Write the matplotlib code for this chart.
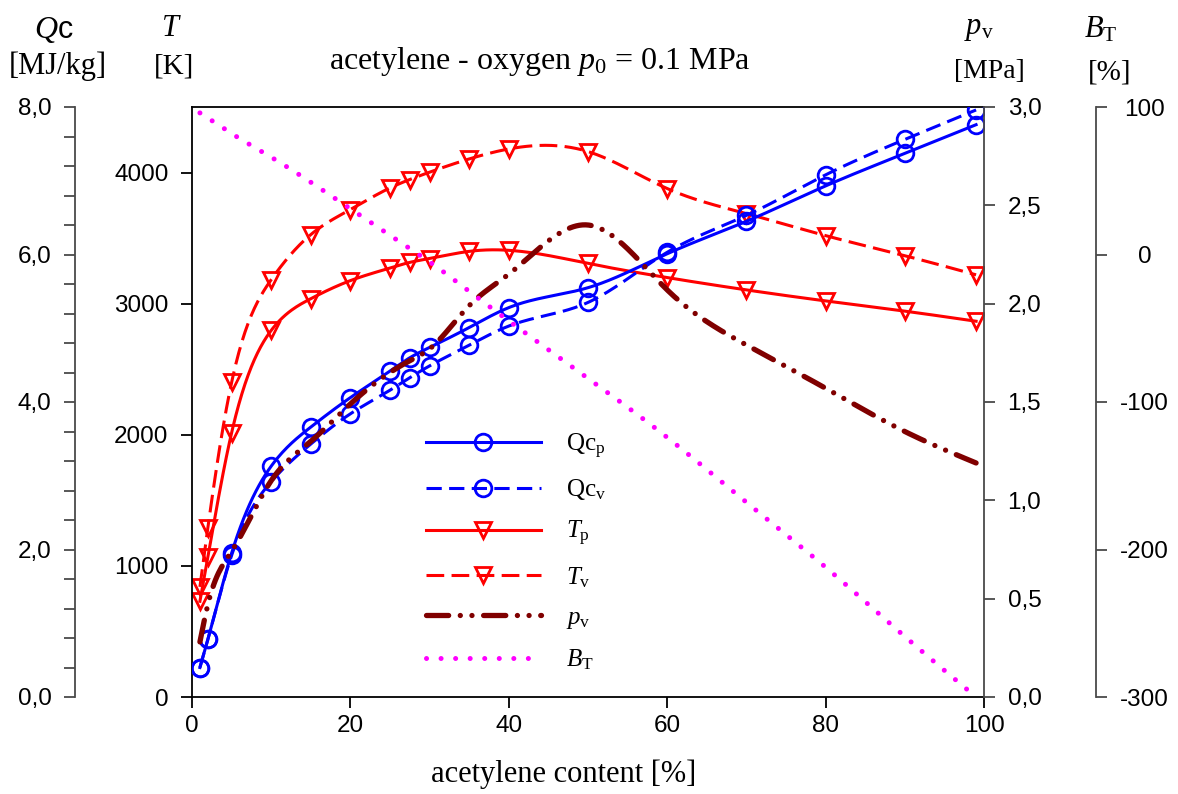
import numpy as np
import matplotlib
matplotlib.use("Agg")
import matplotlib.pyplot as plt
from matplotlib.lines import Line2D
from matplotlib.ticker import FixedLocator, FuncFormatter

# ---------------- data ----------------
x_content = [1, 2, 5, 10, 15, 20, 25, 27.5, 30, 35, 40, 50, 60, 70, 80, 90, 99]

qc_p = [0.40, 0.78, 1.95, 3.13, 3.66, 4.06, 4.42, 4.60, 4.74, 5.01, 5.28, 5.55, 6.01, 6.45, 6.93, 7.37, 7.76]
qc_v = [0.40, 0.78, 1.92, 2.92, 3.43, 3.84, 4.16, 4.33, 4.49, 4.77, 5.03, 5.35, 6.03, 6.53, 7.08, 7.56, 7.96]

t_p = [730, 1069, 2015, 2796, 3038, 3176, 3272, 3315, 3344, 3399, 3407, 3307, 3199, 3105, 3021, 2943, 2866]
t_v = [840, 1290, 2399, 3183, 3527, 3718, 3883, 3947, 4003, 4104, 4180, 4160, 3878, 3687, 3519, 3366, 3220]

p_v = [0.28, 0.47, 0.74, 1.10, 1.30, 1.49, 1.65, 1.71, 1.77, 1.99, 2.15, 2.40, 2.07, 1.79, 1.57, 1.35, 1.19]

b_t = [96, 92.5, 82, 66, 49, 31, 13, 4, -5, -25, -45, -84, -124, -168, -212, -259, -300]

x_ticks = [0, 20, 40, 60, 80, 100]
qc_ticks = [0, 2, 4, 6, 8]
t_ticks = [0, 1000, 2000, 3000, 4000]
pv_ticks = [0, 0.5, 1.0, 1.5, 2.0, 2.5, 3.0]
bt_ticks = [-300, -200, -100, 0, 100]

# ---------------- helpers ----------------
def smooth(x, y, n=500):
    """natural cubic spline through the data points (for drawing the curve)"""
    x = np.asarray(x, float); y = np.asarray(y, float)
    h = np.diff(x); m = len(x)
    A = np.zeros((m, m)); r = np.zeros(m)
    A[0, 0] = A[-1, -1] = 1
    for i in range(1, m - 1):
        A[i, i - 1] = h[i - 1]; A[i, i] = 2 * (h[i - 1] + h[i]); A[i, i + 1] = h[i]
        r[i] = 3 * ((y[i + 1] - y[i]) / h[i] - (y[i] - y[i - 1]) / h[i - 1])
    c = np.linalg.solve(A, r)
    b = (y[1:] - y[:-1]) / h - h * (2 * c[:-1] + c[1:]) / 3
    d = (c[1:] - c[:-1]) / (3 * h)
    xs = np.linspace(x[0], x[-1], n)
    idx = np.clip(np.searchsorted(x, xs) - 1, 0, m - 2)
    dx = xs - x[idx]
    return xs, y[idx] + b[idx] * dx + c[idx] * dx ** 2 + d[idx] * dx ** 3

def comma(fmt):
    return FuncFormatter(lambda v, p: (fmt % v).replace('.', ','))

# ---------------- style ----------------
plt.rcParams['font.family'] = ['Liberation Sans', 'DejaVu Sans']
plt.rcParams['mathtext.fontset'] = 'custom'
plt.rcParams['mathtext.rm'] = 'Liberation Serif'
plt.rcParams['mathtext.it'] = 'Liberation Serif:italic'
plt.rcParams['mathtext.sf'] = 'Liberation Sans'

BLUE = '#0000FF'
RED = '#FF0000'
MAROON = '#800000'
MAGENTA = '#FF00FF'
GREY = '#4a4a4a'

TICK_FS = 17.5
SERIF = 'Liberation Serif'

W, H = 1178, 794
fig = plt.figure(figsize=(W / 100, H / 100), dpi=100)
L, R, B, T = 192, 984, 697, 107
ax = fig.add_axes([L / W, 1 - B / H, (R - L) / W, (B - T) / H])
ax_q = ax.twinx()
ax_p = ax.twinx()
ax_b = ax.twinx()

# main axes: x + temperature
ax.set_xlim(0, 100)
ax.set_ylim(0, 4500)
ax.xaxis.set_major_locator(FixedLocator(x_ticks))
ax.yaxis.set_major_locator(FixedLocator(t_ticks))
ax.tick_params(axis='both', direction='out', length=8, width=1.3, labelsize=TICK_FS, pad=9)
ax.tick_params(axis='x', pad=5)
ax.spines['right'].set_visible(False)
for s in ['left', 'bottom', 'top']:
    ax.spines[s].set_linewidth(1.3)
ax.set_xlabel('acetylene content [%]', family=SERIF, fontsize=22, labelpad=16)
ax.xaxis.label.set_x((564 - L) / (R - L))

# Qc axis (far left)
ax_q.set_ylim(0, 8)
ax_q.yaxis.set_ticks_position('left')
ax_q.spines['left'].set_position(('axes', -117 / (R - L)))
ax_q.spines['left'].set_visible(True)
ax_q.spines['left'].set_color(GREY)
ax_q.spines['left'].set_linewidth(1.3)
for s in ['right', 'top', 'bottom']:
    ax_q.spines[s].set_visible(False)
ax_q.yaxis.set_major_locator(FixedLocator(qc_ticks))
ax_q.yaxis.set_minor_locator(FixedLocator([v / 10 for v in range(0, 81, 4)]))
ax_q.yaxis.set_major_formatter(comma('%.1f'))
ax_q.tick_params(axis='y', which='both', direction='out', length=8, width=1.3, color=GREY,
                 labelsize=TICK_FS, pad=9)

# p_v axis (inner right)
ax_p.set_ylim(0, 3)
for s in ['left', 'top', 'bottom']:
    ax_p.spines[s].set_visible(False)
ax_p.spines['right'].set_color(GREY)
ax_p.spines['right'].set_linewidth(1.3)
ax_p.yaxis.set_major_locator(FixedLocator(pv_ticks))
ax_p.yaxis.set_major_formatter(comma('%.1f'))
ax_p.tick_params(axis='y', direction='out', length=8, width=1.3, color=GREY, labelsize=TICK_FS, pad=9)

# B_T axis (far right)
ax_b.set_ylim(-300, 100)
for s in ['left', 'top', 'bottom']:
    ax_b.spines[s].set_visible(False)
ax_b.spines['right'].set_position(('axes', 1 + 112 / (R - L)))
ax_b.spines['right'].set_color(GREY)
ax_b.spines['right'].set_linewidth(1.3)
ax_b.yaxis.set_major_locator(FixedLocator(bt_ticks))
ax_b.yaxis.set_major_formatter(FuncFormatter(lambda v, p: '%d' % v))
ax_b.tick_params(axis='y', direction='out', length=8, width=1.3, color=GREY, labelsize=TICK_FS, pad=27)
for lab in ax_b.get_yticklabels():
    lab.set_horizontalalignment('center')

# ---------------- series ----------------
LW = 2.2
dash_b = (0, (5.0, 2.4))
dash_r = (0, (5.8, 2.4))
dashdotdot = (0, (4.2, 2.2, 0.01, 2.2, 0.01, 2.2))
dotted = (0, (0.01, 2.9))

mk_c = dict(marker='o', ms=12, mfc='none', mew=2.0)
mk_t = dict(marker='v', ms=12, mfc='none', mew=2.0)

# B_T
xs, ys = smooth(x_content, b_t)
ax_b.plot(xs, ys, color=MAGENTA, lw=3.6, linestyle=dotted, dash_capstyle='round')
# p_v
xs, ys = smooth(x_content, p_v)
ax_p.plot(xs, ys, color=MAROON, lw=3.8, linestyle=dashdotdot, dash_capstyle='round')
# temperatures
xs, ys = smooth(x_content, t_p)
ax.plot(xs, ys, color=RED, lw=LW)
ax.plot(x_content, t_p, color=RED, ls='none', **mk_t)
xs, ys = smooth(x_content, t_v)
ax.plot(xs, ys, color=RED, lw=LW, linestyle=dash_r)
ax.plot(x_content, t_v, color=RED, ls='none', **mk_t)
# heat of combustion
xs, ys = smooth(x_content, qc_p)
ax_q.plot(xs, ys, color=BLUE, lw=LW)
ax_q.plot(x_content, qc_p, color=BLUE, ls='none', **mk_c)
xs, ys = smooth(x_content, qc_v)
ax_q.plot(xs, ys, color=BLUE, lw=LW, linestyle=dash_b)
ax_q.plot(x_content, qc_v, color=BLUE, ls='none', **mk_c)

for a in (ax_q, ax_p, ax_b):
    a.set_xlim(0, 100)

# ---------------- legend ----------------
handles = [
    Line2D([], [], color=BLUE, lw=LW, **mk_c),
    Line2D([], [], color=BLUE, lw=LW, linestyle=dash_b, **mk_c),
    Line2D([], [], color=RED, lw=LW, **mk_t),
    Line2D([], [], color=RED, lw=LW, linestyle=dash_r, **mk_t),
    Line2D([], [], color=MAROON, lw=3.8, linestyle=dashdotdot, dash_capstyle='round'),
    Line2D([], [], color=MAGENTA, lw=3.6, linestyle=dotted, dash_capstyle='round'),
]
labels = [r'Qc$_\mathrm{p}$', r'Qc$_\mathrm{v}$', r'$T_\mathrm{p}$', r'$T_\mathrm{v}$',
          r'$p_\mathrm{v}$', r'$B_\mathrm{T}$']
leg = ax_b.legend(handles, labels, loc='upper left', bbox_to_anchor=(403 / W, 1 - 409 / H),
                  bbox_transform=fig.transFigure, frameon=False, numpoints=1,
                  prop={'family': SERIF, 'size': 18}, handlelength=4.6, handletextpad=1.0,
                  labelspacing=0.67)

# ---------------- headers ----------------
def ftext(xp, yp, s, **kw):
    fig.text(xp / W, 1 - yp / H, s, **kw)

ftext(34, 38, 'Q', family=SERIF, style='italic', fontsize=23, ha='left', va='baseline')
ftext(58, 38, 'c', family='Liberation Sans', fontsize=22, ha='left', va='baseline')
ftext(58, 66, '[MJ/kg]', family=SERIF, fontsize=22, ha='center', va='center')
ftext(171, 36, r'$T$', fontsize=22, ha='center', va='baseline')
ftext(174, 66, '[K]', family=SERIF, fontsize=21, ha='center', va='center')
ftext(540, 62, r'acetylene - oxygen $p_\mathrm{0}$ = 0.1 MPa', family=SERIF, fontsize=23,
      ha='center', va='center')
ftext(979, 34, r'$p_\mathrm{v}$', fontsize=22, ha='center', va='baseline')
ftext(989, 72, '[MPa]', family=SERIF, fontsize=20, ha='center', va='center')
ftext(1101, 37, r'$B_\mathrm{T}$', fontsize=22, ha='center', va='baseline')
ftext(1110, 72, '[%]', family=SERIF, fontsize=21, ha='center', va='center')

fig.savefig('out.png', dpi=100)
